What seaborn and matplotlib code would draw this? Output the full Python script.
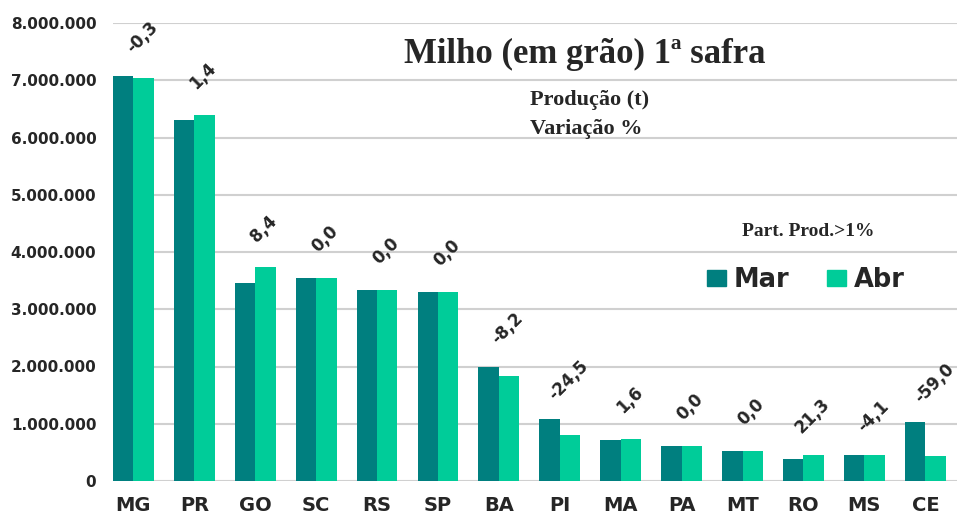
import pandas as pd
import matplotlib.pyplot as plt
import seaborn as sns
from matplotlib.patches import Patch

# Dados: produção de milho 1ª safra por UF (t)
ufs = ['MG', 'PR', 'GO', 'SC', 'RS', 'SP', 'BA', 'PI', 'MA', 'PA', 'MT', 'RO', 'MS', 'CE']
prod_mar = [7070000, 6310000, 3460000, 3550000, 3340000, 3300000, 1990000,
            1080000, 720000, 610000, 520000, 380000, 450000, 1030000]
prod_abr = [7040000, 6390000, 3730000, 3550000, 3340000, 3300000, 1830000,
            810000, 730000, 610000, 520000, 460000, 450000, 430000]
variacao = ['-0,3', '1,4', '8,4', '0,0', '0,0', '0,0', '-8,2',
            '-24,5', '1,6', '0,0', '0,0', '21,3', '-4,1', '-59,0']

cor_mar = '#007F7F'
cor_abr = '#00CC99'

# Monto un DataFrame en formato largo para seaborn
df = pd.DataFrame({
    'UF': ufs * 2,
    'Mes': ['Mar'] * len(ufs) + ['Abr'] * len(ufs),
    'Producao': prod_mar + prod_abr,
})

sns.set_style('white')
plt.rcParams['font.family'] = ['DejaVu Sans']

fig = plt.figure(figsize=(9.57, 5.17), dpi=100)
ax = fig.add_axes([113 / 957, 36 / 517, 844 / 957, 458 / 517])

sns.barplot(data=df, x='UF', y='Producao', hue='Mes', order=ufs,
            hue_order=['Mar', 'Abr'], palette=[cor_mar, cor_abr],
            width=0.67, gap=0, saturation=1, linewidth=0, ax=ax)

# Ejes y grilla
ax.set_ylim(0, 8000000)
ax.set_xlim(-0.335, 13.52)
ax.set_yticks(range(0, 8000001, 1000000))
ax.set_yticklabels(['0' if v == 0 else f'{v:,}'.replace(',', '.') for v in range(0, 8000001, 1000000)],
                   fontsize=11, fontweight='bold')
ax.set_xticks(range(len(ufs)))
ax.set_xticklabels(ufs, fontsize=14, fontweight='bold')
ax.tick_params(axis='y', length=0, pad=12)
ax.tick_params(axis='x', length=0, pad=11)
ax.set_xlabel('')
ax.set_ylabel('')
ax.grid(axis='y', color='#D0D0D0', linewidth=1.5)
ax.set_axisbelow(True)
for s in ax.spines.values():
    s.set_visible(False)

# Etiquetas de variación sobre la barra de Abr
for i, txt in enumerate(variacao):
    topo = max(prod_mar[i], prod_abr[i])
    ax.annotate(txt, xy=(i + 0.1675, topo), xytext=(-1, 28), textcoords='offset points',
                rotation=45, ha='center', va='center', fontsize=12, fontweight='bold')

# Títulos
serif = ['Liberation Serif', 'DejaVu Serif']
fig.text(585 / 957, 1 - 54 / 517, 'Milho (em grão) 1ª safra', family=serif,
         fontsize=25, fontweight='bold', ha='center', va='center')
fig.text(590 / 957, 1 - 100 / 517, 'Produção (t)', family=serif,
         fontsize=16, fontweight='bold', ha='center', va='center')
fig.text(586 / 957, 1 - 129 / 517, 'Variação %', family=serif,
         fontsize=16, fontweight='bold', ha='center', va='center')
fig.text(808 / 957, 1 - 231 / 517, 'Part. Prod.>1%', family=serif,
         fontsize=14, fontweight='bold', ha='center', va='center')

# Leyenda
ax.legend_.remove()
handles = [Patch(color=cor_mar, label='Mar'), Patch(color=cor_abr, label='Abr')]
fig.legend(handles=handles, ncol=2, loc='center', bbox_to_anchor=(806 / 957, 1 - 280 / 517),
           frameon=False, prop={'size': 18.5, 'weight': 'bold'}, handlelength=0.74,
           handleheight=0.62, handletextpad=0.31, columnspacing=1.48)

plt.savefig('out.png', dpi=100)
